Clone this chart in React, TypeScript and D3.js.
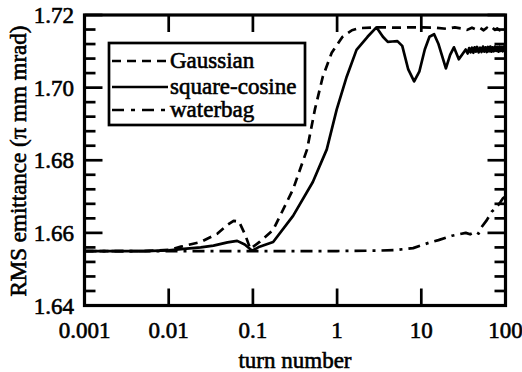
import React from "react";
import * as d3 from "d3";

// Emittance growth vs. turn number for three initial distributions
const gaussTurns = [0.001, 0.005, 0.01, 0.014, 0.024, 0.038, 0.05, 0.059, 0.068, 0.081, 0.093, 0.12, 0.174, 0.3, 0.44, 0.545, 0.676, 0.863, 1.16, 1.5, 1.85, 2.5, 3, 4, 5, 7, 10, 15, 20, 25, 30, 35, 40, 45, 50, 55, 60, 65, 70, 75, 80, 85, 90, 95, 100];
const gaussEmit = [1.655, 1.655, 1.6553, 1.6562, 1.6575, 1.6598, 1.6622, 1.6633, 1.6632, 1.6595, 1.6556, 1.6575, 1.6608, 1.672, 1.683, 1.694, 1.703, 1.7096, 1.714, 1.7158, 1.7164, 1.7165, 1.7166, 1.7166, 1.7165, 1.7166, 1.7166, 1.7165, 1.7162, 1.7166, 1.7163, 1.7159, 1.7165, 1.716, 1.7164, 1.7158, 1.7165, 1.716, 1.7165, 1.7159, 1.7163, 1.7158, 1.7164, 1.716, 1.7162];

const sqcosTurns = [0.001, 0.005, 0.01, 0.014, 0.024, 0.034, 0.05, 0.065, 0.08, 0.098, 0.12, 0.174, 0.3, 0.515, 0.754, 0.99, 1.3, 1.7, 2.3, 2.93, 3.5, 4.0, 4.53, 5.2, 5.94, 7.0, 8.22, 9.5, 11, 12.5, 14.2, 16, 19.6, 22, 24.4, 27.9, 33.7, 35.5, 37, 38.5, 40, 41.5, 43, 44.5, 46, 48, 50, 52, 54, 56, 58, 60, 62, 64, 66, 68, 70, 72.5, 75, 77.5, 80, 82.5, 85, 87.5, 90, 92.5, 95, 97.5, 100];
const sqcosEmit = [1.655, 1.655, 1.6552, 1.6555, 1.656, 1.6565, 1.6574, 1.6578, 1.6568, 1.6551, 1.6562, 1.6575, 1.6647, 1.674, 1.683, 1.694, 1.703, 1.7104, 1.714, 1.7166, 1.714, 1.7126, 1.7127, 1.7128, 1.7115, 1.705, 1.7017, 1.7045, 1.7105, 1.714, 1.7147, 1.712, 1.7053, 1.709, 1.7111, 1.7078, 1.7105, 1.7094, 1.7109, 1.7097, 1.711, 1.7096, 1.7111, 1.7099, 1.7112, 1.7097, 1.711, 1.7098, 1.7113, 1.7099, 1.7111, 1.7098, 1.7112, 1.71, 1.7113, 1.7099, 1.7111, 1.71, 1.7113, 1.7101, 1.7112, 1.7099, 1.7113, 1.7101, 1.7112, 1.71, 1.7113, 1.7102, 1.7108];

const waterTurns = [0.001, 0.01, 0.1, 1, 3, 5.05, 8, 12.4, 16, 23.1, 28, 33.7, 38, 44.3, 48, 52.1, 60, 68.4, 78, 87.2, 93, 100];
const waterEmit = [1.655, 1.655, 1.655, 1.655, 1.6551, 1.6553, 1.6558, 1.6573, 1.658, 1.6592, 1.6596, 1.66, 1.6596, 1.6603, 1.6598, 1.6616, 1.6635, 1.6658, 1.667, 1.6685, 1.6695, 1.67];

const xTicks = [0.001, 0.01, 0.1, 1, 10, 100];
const xTickLabels = ["0.001", "0.01", "0.1", "1", "10", "100"];
const yMajor = [1.64, 1.66, 1.68, 1.7, 1.72];
const yMajorLabels = ["1.64", "1.66", "1.68", "1.70", "1.72"];
const legendNames = ["Gaussian", "square-cosine", "waterbag"];

const W = 522;
const H = 372;
const L = 84.5, R = 505.5, T = 15, B = 305.5;
const textStyle = { fontFamily: "Liberation Serif" };
const FS = 23;
const TS = 0.6;

const dashes = ["9,6", "none", "12,6,3,6"];

export default function App() {
  const x = d3.scaleLog().domain([0.001, 100]).range([L, R]);
  const y = d3.scaleLinear().domain([1.64, 1.72]).range([B, T]);
  const line = d3
    .line<[number, number]>()
    .x((d) => x(d[0]))
    .y((d) => y(d[1]));

  const series = [
    d3.zip(gaussTurns, gaussEmit) as [number, number][],
    d3.zip(sqcosTurns, sqcosEmit) as [number, number][],
    d3.zip(waterTurns, waterEmit) as [number, number][],
  ];

  const yMinor = d3.range(1.644, 1.7201, 0.004).filter(
    (v) => !yMajor.some((m) => Math.abs(m - v) < 1e-6)
  );

  const legX = 109, legY = 43, legW = 196, legH = 82;
  const rowY = [61, 87, 110];

  return (
    <svg
      width={W}
      height={H}
      style={{ position: "absolute", left: 0, top: 0, background: "#fff" }}
    >
      <rect x={0} y={0} width={W} height={H} fill="#fff" />
      <defs>
        <clipPath id="plot">
          <rect x={L} y={T} width={R - L} height={B - T} />
        </clipPath>
      </defs>

      {/* curves */}
      <g clipPath="url(#plot)">
        {series.map((s, i) => (
          <path
            key={i}
            d={line(s) || ""}
            fill="none"
            stroke="#000"
            strokeWidth={2.7}
            strokeDasharray={dashes[i]}
            strokeLinejoin="round"
          />
        ))}
      </g>

      {/* x ticks, bottom and top */}
      {xTicks.map((t, i) => (
        <g key={"x" + i}>
          <line x1={x(t)} x2={x(t)} y1={B} y2={B - 17} stroke="#000" strokeWidth={2.7} />
          <line x1={x(t)} x2={x(t)} y1={T} y2={T + 17} stroke="#000" strokeWidth={2.7} />
          <text
            x={x(t)}
            y={338}
            textAnchor="middle"
            fontSize={FS}
            stroke="#000"
            strokeWidth={TS}
            style={textStyle}
          >
            {xTickLabels[i]}
          </text>
        </g>
      ))}

      {/* y ticks, left and right */}
      {yMajor.map((v, i) => (
        <g key={"y" + i}>
          <line x1={L} x2={L + 18} y1={y(v)} y2={y(v)} stroke="#000" strokeWidth={2.7} />
          <line x1={R} x2={R - 18} y1={y(v)} y2={y(v)} stroke="#000" strokeWidth={2.7} />
          <text
            x={74}
            y={y(v) + 8}
            textAnchor="end"
            fontSize={FS}
            stroke="#000"
            strokeWidth={TS}
            style={textStyle}
          >
            {yMajorLabels[i]}
          </text>
        </g>
      ))}
      {yMinor.map((v, i) => (
        <g key={"ym" + i}>
          <line x1={L} x2={L + 11} y1={y(v)} y2={y(v)} stroke="#000" strokeWidth={2.7} />
          <line x1={R} x2={R - 11} y1={y(v)} y2={y(v)} stroke="#000" strokeWidth={2.7} />
        </g>
      ))}

      {/* frame */}
      <rect x={L} y={T} width={R - L} height={B - T} fill="none" stroke="#000" strokeWidth={3.2} />

      {/* legend */}
      <rect x={legX} y={legY} width={legW} height={legH} fill="#fff" stroke="#000" strokeWidth={2.7} />
      {legendNames.map((n, i) => (
        <g key={"l" + i}>
          <line
            x1={112}
            x2={168}
            y1={rowY[i]}
            y2={rowY[i]}
            stroke="#000"
            strokeWidth={2.7}
            strokeDasharray={i === 0 ? "9,6" : i === 2 ? "12,7,4,7" : "none"}
          />
          <text x={170} y={rowY[i] + 7} fontSize={FS} stroke="#000" strokeWidth={TS} style={textStyle}>
            {n}
          </text>
        </g>
      ))}

      {/* axis titles */}
      <text
        x={(L + R) / 2}
        y={368}
        textAnchor="middle"
        fontSize={FS}
        stroke="#000"
        strokeWidth={TS}
        style={textStyle}
      >
        turn number
      </text>
      <text
        transform={`translate(26,161) rotate(-90)`}
        textAnchor="middle"
        fontSize={FS}
        stroke="#000"
        strokeWidth={TS}
        style={textStyle}
      >
        RMS emittance (π mm mrad)
      </text>
    </svg>
  );
}
